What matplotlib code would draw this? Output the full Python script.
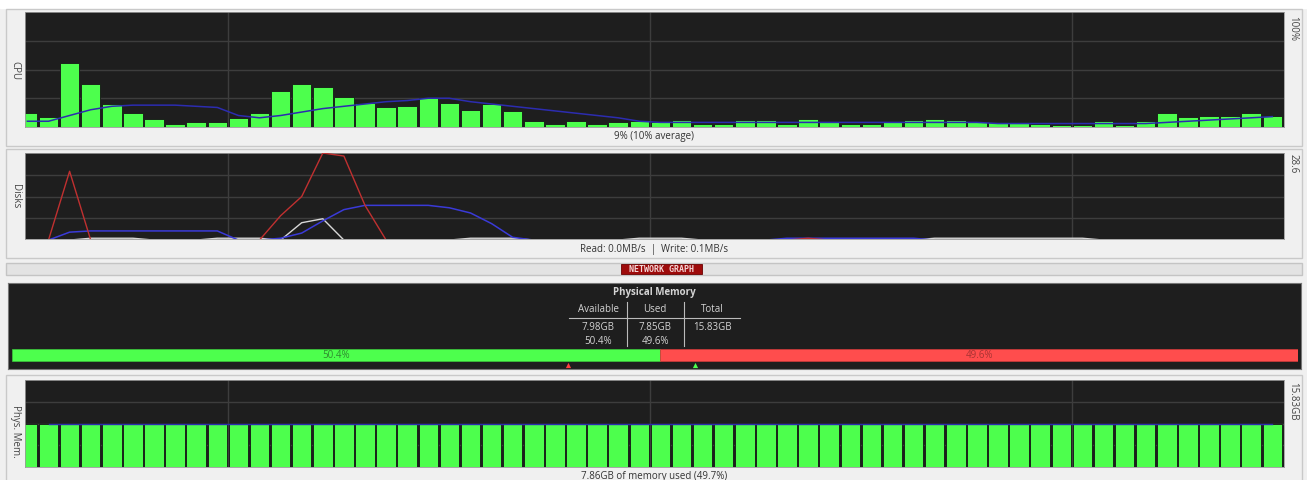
import numpy as np
import matplotlib
matplotlib.use("Agg")
import matplotlib.pyplot as plt
from matplotlib.patches import Rectangle

plt.rcParams['font.family'] = ['Open Sans', 'DejaVu Sans']

# ---- data (one sample per bar, 60 samples) ----
cpu_pct = [12, 9, 56, 37, 20, 12, 7, 3, 4, 4, 8, 12, 31, 37, 35, 26, 21, 17, 18, 25,
           21, 15, 20, 14, 5, 3, 5, 3, 4, 5, 4, 6, 3, 3, 6, 6, 3, 7, 4, 3,
           3, 4, 6, 7, 6, 4, 4, 4, 3, 2, 2, 5, 2, 5, 12, 9, 10, 10, 12, 10]
cpu_avg = [5, 5, 10, 15, 18, 19, 19, 19, 18, 17, 10, 8, 10, 13, 16, 18, 20, 22, 23, 25,
           25, 22, 20, 18, 16, 14, 12, 10, 8, 5, 4, 4, 4, 4, 4, 4, 4, 4, 4, 4,
           4, 4, 4, 4, 4, 4, 3, 3, 3, 3, 3, 3, 3, 3, 4, 5, 6, 7, 8, 9]

disk_max = 28.6
disk_write = [0, 0, 22.6, 0, 0, 0, 0, 0, 0, 0, 0, 0, 8.0, 14.3, 28.6, 27.6, 11.4, 0, 0, 0,
              0, 0, 0, 0, 0, 0, 0, 0, 0, 0, 0, 0, 0, 0, 0, 0, 0, 0.6, 0, 0,
              0, 0, 0, 0, 0, 0, 0, 0, 0, 0, 0, 0, 0, 0, 0, 0, 0, 0, 0, 0]
disk_avg = [0, 0, 2.6, 3.0, 3.0, 3.0, 3.0, 3.0, 3.0, 3.0, 0, 0, 0.6, 2.3, 6.3, 10.0, 11.4, 11.4, 11.4, 11.4,
            10.6, 8.9, 5.4, 0.9, 0, 0, 0, 0, 0, 0, 0, 0, 0, 0, 0, 0, 0.6, 0.6, 0.6, 0.6,
            0.6, 0.6, 0.6, 0, 0, 0, 0, 0, 0, 0, 0, 0, 0, 0, 0, 0, 0, 0, 0, 0]
disk_read = [0, 0, 0, 0.6, 0.6, 0.6, 0, 0, 0, 0.6, 0.6, 0.6, 0, 5.7, 7.0, 0, 0, 0, 0, 0,
             0, 0.6, 0.6, 0.6, 0, 0, 0, 0, 0, 0.6, 0.6, 0.6, 0, 0, 0, 0, 0, 0, 0, 0,
             0, 0, 0, 0.6, 0.6, 0.6, 0.6, 0.6, 0.6, 0.6, 0.6, 0, 0, 0, 0, 0, 0, 0, 0, 0]

mem_total = 15.83
mem_labels = ["Available", "Used", "Total"]
mem_gb = ["7.98GB", "7.85GB", "15.83GB"]
mem_pct = [50.4, 49.6]
mem_markers = [43.2, 53.1]
phys_pct = [49.6] * 59 + [49.8]
phys_avg = [49.6] * 59 + [49.6]

# ---- layout helpers (pixels of a 1307x480 image) ----
W, H = 1307, 480
fig = plt.figure(figsize=(W / 100, H / 100), dpi=100)
fig.patch.set_facecolor('#f0f0f0')

def rect(x0, y0, x1, y1):
    return [x0 / W, 1 - y1 / H, (x1 - x0) / W, (y1 - y0) / H]

def frame(x0, y0, x1, y1, fc='#f0f0f0', ec='#c9c9c9', lw=1.0, z=-10):
    fig.patches.append(Rectangle((x0 / W, 1 - y1 / H), (x1 - x0) / W, (y1 - y0) / H,
                                 transform=fig.transFigure, facecolor=fc,
                                 edgecolor=ec, linewidth=lw, zorder=z))

def ftext(x, y, s, **kw):
    fig.text(x / W, 1 - y / H, s, **kw)

DARK = '#1e1e1e'
GRID = '#3d3d3d'
GREEN = '#4dff4d'
BLUE = '#2c2cb0'
idx = np.arange(60)
XLIM = ((25 - 27.4) / 21.1, (1284 - 27.4) / 21.1)

def dark_axes(x0, y0, x1, y1):
    ax = fig.add_axes(rect(x0, y0, x1, y1))
    ax.set_facecolor(DARK)
    ax.set_xlim(*XLIM)
    ax.set_xticks([9.5, 29.5, 49.5])
    ax.tick_params(length=0, labelbottom=False, labelleft=False)
    ax.grid(True, color=GRID, linewidth=1.0)
    ax.set_axisbelow(True)
    for sp in ax.spines.values():
        sp.set_color('#9a9a9a')
        sp.set_linewidth(0.6)
    return ax

# white strip at the very top
frame(0, -2, W, 8, fc='white', ec='white')

# ---- CPU panel ----
frame(6, 9, 1302, 146)
ax = dark_axes(25, 12, 1284, 127)
ax.set_ylim(0, 100)
ax.set_yticks([25, 50, 75])
ax.bar(idx, cpu_pct, width=0.92, color=GREEN, edgecolor='#151515', linewidth=0.6, zorder=2)
ax.plot(idx, cpu_avg, color=BLUE, linewidth=1.1, zorder=3)
ftext(15, 71, "CPU", rotation=270, ha='center', va='center', fontsize=7, color='#444444')
ftext(1293, 28, "100%", rotation=270, ha='center', va='center', fontsize=7, color='#444444')
ftext(654, 136, "9% (10% average)", ha='center', va='center', fontsize=7, color='#333333')

# ---- Disks panel ----
frame(6, 149, 1302, 258)
ax = dark_axes(25, 153, 1284, 239)
ax.set_ylim(0.35, disk_max)
ax.set_yticks([disk_max * 0.25, disk_max * 0.5, disk_max * 0.75])
ax.plot(idx, disk_read, color='#d8d8d8', linewidth=1.0, zorder=3)
ax.plot(idx, disk_avg, color='#3a3ad8', linewidth=1.1, zorder=4)
ax.plot(idx, disk_write, color='#c03030', linewidth=1.0, zorder=5)
ftext(15, 196, "Disks", rotation=270, ha='center', va='center', fontsize=7, color='#444444')
ftext(1293, 164, "28.6", rotation=270, ha='center', va='center', fontsize=7, color='#444444')
ftext(654, 249, "Read: 0.0MB/s  |  Write: 0.1MB/s", ha='center', va='center', fontsize=7,
      color='#333333')

# ---- network graph strip ----
frame(6, 263, 1302, 275, fc='#e3e3e3', ec='#c4c4c4')
frame(621, 264, 702, 274, fc='#9e0b0b', ec='#6a0000', lw=0.6, z=-5)
ftext(661.5, 269.3, "NETWORK GRAPH", ha='center', va='center', fontsize=6.0,
      family='DejaVu Sans Mono', weight='bold', color='#f3d6d6')

# ---- physical memory summary ----
axm = fig.add_axes(rect(8, 283, 1301, 369))
axm.set_facecolor(DARK)
axm.set_xticks([])
axm.set_yticks([])
for sp in axm.spines.values():
    sp.set_color('#777777')
    sp.set_linewidth(0.8)
TXT = '#d4d4d4'
ftext(654, 292, "Physical Memory", ha='center', va='center', fontsize=7, weight='bold', color=TXT)
col_x = [598, 655, 712]
for cx, lab, gb in zip(col_x, mem_labels, mem_gb):
    ftext(cx, 309, lab, ha='center', va='center', fontsize=7, color=TXT)
    ftext(cx, 327, gb, ha='center', va='center', fontsize=7, color=TXT)
for cx, p in zip(col_x, mem_pct):
    ftext(cx, 341, f"{p}%", ha='center', va='center', fontsize=7, color=TXT)
fig.add_artist(plt.Line2D([569 / W, 740 / W], [1 - 318 / H, 1 - 318 / H],
                          color='#bbbbbb', linewidth=0.8))
for vx in [627, 684]:
    fig.add_artist(plt.Line2D([vx / W, vx / W], [1 - 302 / H, 1 - 346 / H],
                              color='#bbbbbb', linewidth=0.8))

axb = fig.add_axes(rect(12, 345, 1298, 369))
axb.set_xlim(0, 100)
axb.set_ylim(0, 1)
axb.axis('off')
axb.barh(0.583, mem_pct[0], height=0.5, left=0, color=GREEN, edgecolor='#3cc83c', linewidth=0.5)
axb.barh(0.583, mem_pct[1], height=0.5, left=mem_pct[0], color='#ff4d4d',
         edgecolor='#d03a3a', linewidth=0.5)
axb.text(mem_pct[0] / 2, 0.583, f"{mem_pct[0]}%", ha='center', va='center', fontsize=7,
         color='#2f8a2f')
axb.text(mem_pct[0] + mem_pct[1] / 2, 0.583, f"{mem_pct[1]}%", ha='center', va='center',
         fontsize=7, color='#a83333')
axb.scatter([mem_markers[0]], [0.17], marker='^', s=14, color='#ff4040', linewidths=0)
axb.scatter([mem_markers[1]], [0.17], marker='^', s=14, color=GREEN, linewidths=0)

# ---- physical memory history ----
frame(6, 375, 1302, 484)
ax = dark_axes(25, 380, 1284, 467)
ax.set_ylim(0, 100)
ax.set_yticks([25, 50, 75])
ax.bar(idx, phys_pct, width=0.92, color=GREEN, edgecolor='#151515', linewidth=0.6, zorder=2)
ax.plot(idx[1:], phys_avg[1:], color=BLUE, linewidth=1.0, zorder=3)
ftext(15, 431, "Phys. Mem.", rotation=270, ha='center', va='center', fontsize=7, color='#444444')
ftext(1293, 401, "15.83GB", rotation=270, ha='center', va='center', fontsize=7, color='#444444')
ftext(654, 476, "7.86GB of memory used (49.7%)", ha='center', va='center', fontsize=7,
      color='#333333')

fig.savefig("out.png", dpi=100, facecolor=fig.get_facecolor())
